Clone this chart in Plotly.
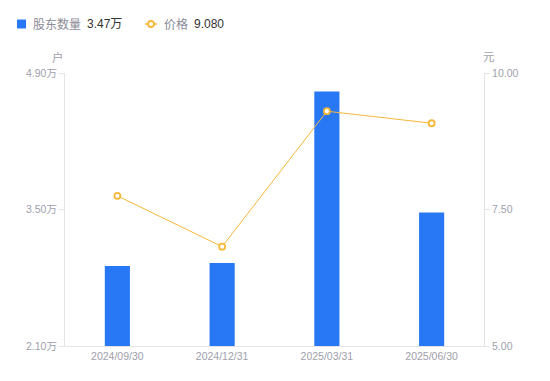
import plotly.graph_objects as go

categories = ["2024/09/30", "2024/12/31", "2025/03/31", "2025/06/30"]
holders_wan = [2.92, 2.95, 4.71, 3.47]
prices = [7.75, 6.82, 9.30, 9.08]
left_ticks = [2.10, 3.50, 4.90]
left_tick_text = ["2.10万", "3.50万", "4.90万"]
right_ticks = [5.0, 7.5, 10.0]
right_tick_text = ["5.00", "7.50", "10.00"]

BLUE = "#2878F6"
ORANGE = "#F7B739"
AXIS = "#E3E3E8"
TICKTXT = "#A0A0AC"
FONT = "Liberation Sans, Noto Sans CJK SC, sans-serif"

OFF = 8  # default page body margin
W, H = 550 - OFF, 381 - OFF
PL, PR, PT, PB = 65, 484, 73, 346  # plot area in screen pixels
L, R, T, B = PL - OFF, 550 - PR, PT - OFF, 381 - PB
PW, PH = PR - PL, PB - PT

def px(x):
    return (x - PL) / PW

def py(y):
    return (PB - y) / PH

fig = go.Figure()
fig.add_trace(go.Bar(x=categories, y=holders_wan, marker=dict(color=BLUE, line=dict(width=0)),
                     width=0.24, yaxis="y", showlegend=False, hoverinfo="skip"))
fig.add_trace(go.Scatter(x=categories, y=prices, yaxis="y2", mode="lines+markers",
                         line=dict(color=ORANGE, width=1),
                         marker=dict(symbol="circle", size=6, color="white",
                                     line=dict(color=ORANGE, width=1.8)),
                         showlegend=False, hoverinfo="skip"))

fig.update_layout(
    width=W, height=H,
    margin=dict(l=L, r=R, t=T, b=B, pad=0),
    paper_bgcolor="white", plot_bgcolor="white",
    font=dict(family=FONT, size=11, color=TICKTXT),
    xaxis=dict(showgrid=False, showline=True, linecolor=AXIS, linewidth=1,
               ticks="", tickfont=dict(size=10.5, color=TICKTXT), zeroline=False),
    yaxis=dict(range=[2.10, 4.90], tickvals=left_ticks, ticktext=left_tick_text,
               showgrid=False, showline=True, linecolor=AXIS, linewidth=1,
               ticks="outside", ticklen=5, tickcolor=AXIS, zeroline=False,
               tickfont=dict(size=10.5, color=TICKTXT)),
    yaxis2=dict(range=[5, 10], tickvals=right_ticks, ticktext=right_tick_text,
                overlaying="y", side="right", showgrid=False, showline=True,
                linecolor=AXIS, linewidth=1, ticks="outside", ticklen=5,
                tickcolor=AXIS, zeroline=False, tickfont=dict(size=10.5, color=TICKTXT)),
    bargap=0.76,
)

shapes = [
    dict(type="rect", xref="paper", yref="paper", x0=px(17), x1=px(26), y0=py(28.5), y1=py(19.5),
         fillcolor=BLUE, line=dict(width=0)),
    dict(type="line", xref="paper", yref="paper", x0=px(145), x1=px(157), y0=py(24), y1=py(24),
         line=dict(color=ORANGE, width=1.5)),
    dict(type="circle", xref="paper", yref="paper", x0=px(148), x1=px(154), y0=py(27), y1=py(21),
         fillcolor="white", line=dict(color=ORANGE, width=1.8)),
]
fig.update_layout(shapes=shapes)

ann = [
    dict(text="股东数量", x=px(31), y=py(24.5), xanchor="left", yanchor="middle",
         font=dict(size=12, color="#8A8A96")),
    dict(text="3.47万", x=px(85), y=py(24.5), xanchor="left", yanchor="middle",
         font=dict(size=12, color="#333333")),
    dict(text="价格", x=px(162), y=py(24.5), xanchor="left", yanchor="middle",
         font=dict(size=12, color="#8A8A96")),
    dict(text="9.080", x=px(192), y=py(24.5), xanchor="left", yanchor="middle",
         font=dict(size=12, color="#333333")),
    dict(text="户", x=px(58), y=py(57), xanchor="center", yanchor="middle",
         font=dict(size=11.5, color=TICKTXT)),
    dict(text="元", x=px(489), y=py(57), xanchor="center", yanchor="middle",
         font=dict(size=11.5, color=TICKTXT)),
]
for a in ann:
    a.update(xref="paper", yref="paper", showarrow=False)
fig.update_layout(annotations=ann)

fig.write_html("out.html")
